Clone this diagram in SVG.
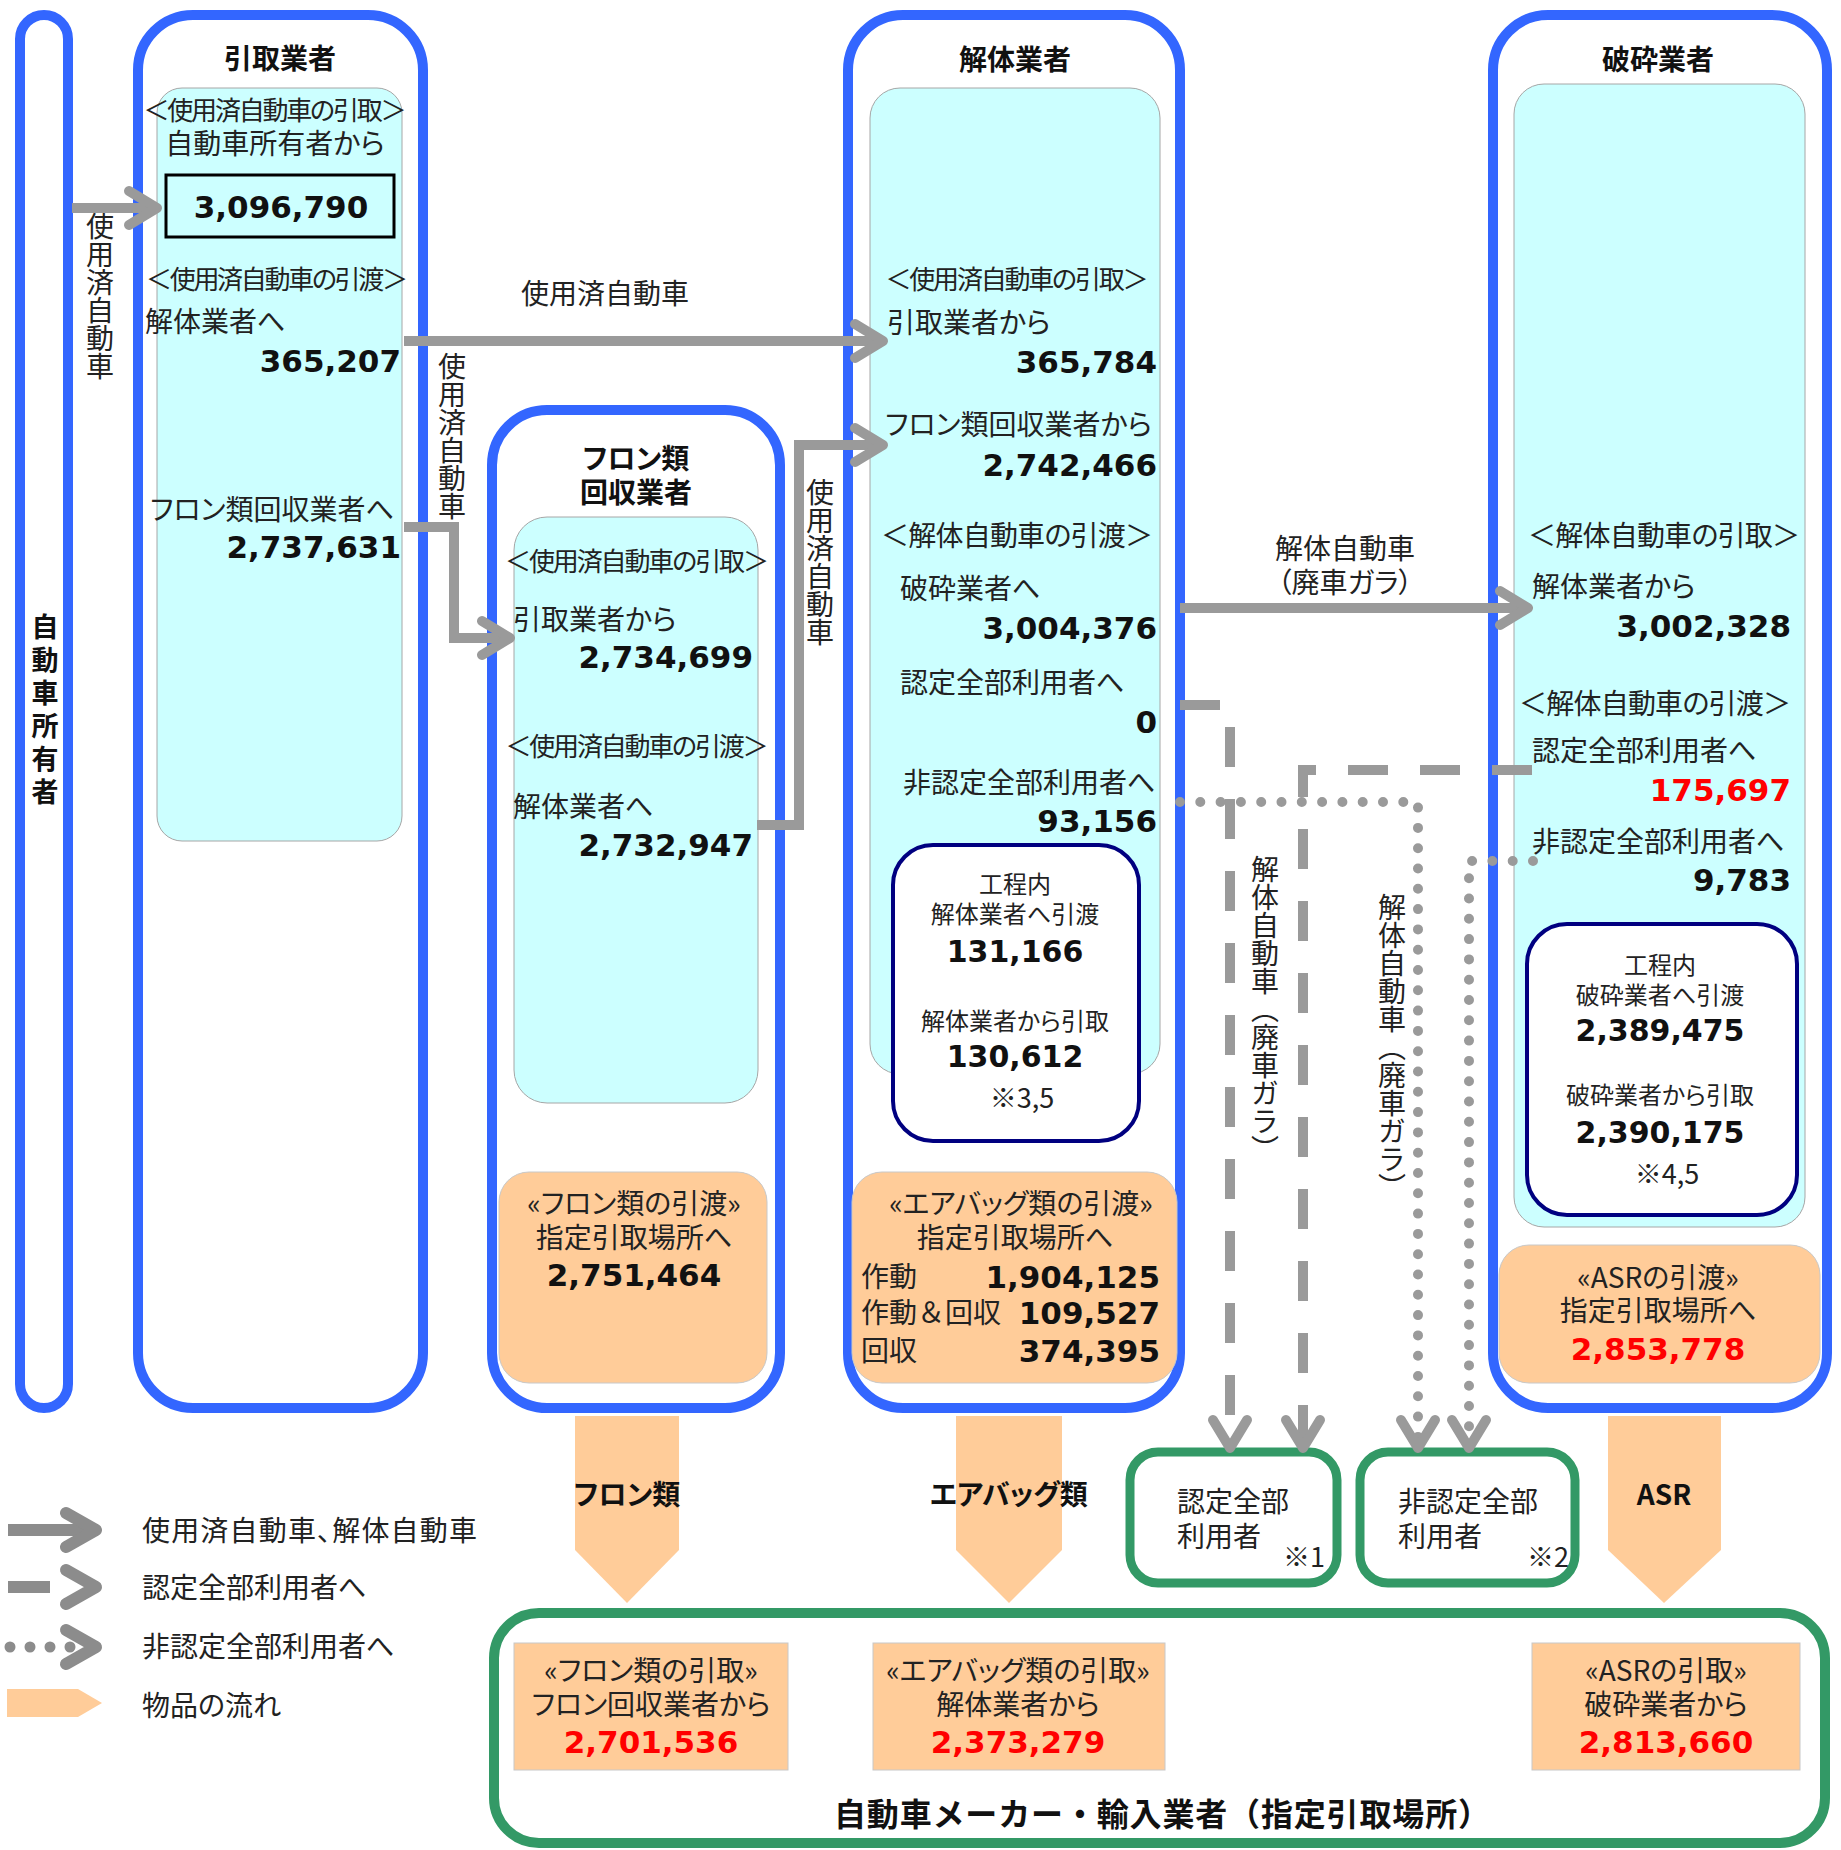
<svg xmlns="http://www.w3.org/2000/svg" width="1841" height="1850" viewBox="0 0 1841 1850">
<defs>
<style>
text{font-family:"Noto Sans CJK JP","Noto Sans CJK SC",sans-serif;fill:#222;font-size:28px;font-feature-settings:"palt";}
.c{text-anchor:middle}
.e{text-anchor:end}
.hd{font-size:26px}
.tt{font-weight:bold;fill:#111}
.sm{font-size:24px}
.np{font-feature-settings:normal}
.n{font-family:"DejaVu Sans",Verdana,sans-serif;font-weight:bold;font-size:31px;fill:#111;font-feature-settings:normal}
.nsm{font-size:30px}
.red{fill:#FF0000}
.v{writing-mode:vertical-rl;font-feature-settings:normal}
.blue{fill:#fff;stroke:#3366FF;stroke-width:10}
.cyan{fill:#CCFFFF;stroke:#A6A6A6;stroke-width:1}
.org{fill:#FFCC99;stroke:#C8C8C8;stroke-width:1}
.navy{fill:#fff;stroke:#000080;stroke-width:4}
.green{fill:#fff;stroke:#339966;stroke-width:9}
.ln{fill:none;stroke:#9A9A9A;stroke-width:10}
.dash{stroke-dasharray:40 32}
.dot{stroke-width:10;stroke-dasharray:0 20.3;stroke-linecap:round}
</style>
<marker id="ah" viewBox="-40 -25 50 50" refX="0" refY="0" markerWidth="50" markerHeight="50" markerUnits="userSpaceOnUse" orient="auto" overflow="visible">
<path d="M-28,-17 L0,0 L-28,17" fill="none" stroke="#9A9A9A" stroke-width="10" stroke-linecap="round" stroke-linejoin="round"/>
</marker>
<path id="chev" d="M-30,-17 L0,0 L-30,17" fill="none" stroke="#8C8C8C" stroke-width="12" stroke-linecap="round" stroke-linejoin="round"/>
</defs>
<rect width="1841" height="1850" fill="#fff"/>

<!-- 自動車所有者 -->
<g id="owner">
<rect class="blue" x="20" y="15" width="48" height="1393" rx="24"/>
<text class="v tt" x="45" y="613" style="font-size:27px;letter-spacing:6px">自動車所有者</text>
</g>

<!-- 引取業者 -->
<g id="hikitori">
<rect class="blue" x="138" y="15" width="285" height="1393" rx="55"/>
<rect class="cyan" x="157" y="88" width="245" height="753" rx="25"/>
<text class="c tt" x="280" y="69">引取業者</text>
<text class="c hd" x="275" y="120" textLength="263">＜使用済自動車の引取＞</text>
<text class="c" x="275" y="154">自動車所有者から</text>
<rect x="166" y="175" width="228" height="62" fill="none" stroke="#000" stroke-width="3"/>
<text class="c n" x="281" y="218">3,096,790</text>
<text class="c hd" x="277" y="289" textLength="262">＜使用済自動車の引渡＞</text>
<text x="145" y="332">解体業者へ</text>
<text class="e n" x="401" y="372">365,207</text>
<text x="150" y="520">フロン類回収業者へ</text>
<text class="e n" x="401" y="558">2,737,631</text>
</g>

<!-- フロン類回収業者 -->
<g id="freon">
<rect class="blue" x="492" y="410" width="288" height="998" rx="55"/>
<rect class="cyan" x="514" y="517" width="244" height="586" rx="33"/>
<text class="c tt" x="636" y="469">フロン類</text>
<text class="c tt" x="636" y="503">回収業者</text>
<text class="c hd" x="637" y="571" textLength="264">＜使用済自動車の引取＞</text>
<text x="513" y="630">引取業者から</text>
<text class="e n" x="753" y="668">2,734,699</text>
<text class="c hd" x="637" y="756" textLength="263">＜使用済自動車の引渡＞</text>
<text x="513" y="817">解体業者へ</text>
<text class="e n" x="753" y="856">2,732,947</text>
<rect class="org" x="499" y="1172" width="268" height="211" rx="30"/>
<text class="c" x="634" y="1214">«フロン類の引渡»</text>
<text class="c" x="634" y="1248">指定引取場所へ</text>
<text class="c n" x="634" y="1286">2,751,464</text>
</g>

<!-- 解体業者 -->
<g id="kaitai">
<rect class="blue" x="848" y="15" width="332" height="1393" rx="55"/>
<rect class="cyan" x="870" y="88" width="290" height="986" rx="30"/>
<text class="c tt" x="1015" y="70">解体業者</text>
<text class="c hd" x="1017" y="289" textLength="263">＜使用済自動車の引取＞</text>
<text x="887" y="333">引取業者から</text>
<text class="e n" x="1157" y="373">365,784</text>
<text x="885" y="435">フロン類回収業者から</text>
<text class="e n" x="1157" y="476">2,742,466</text>
<text class="c" x="1017" y="546" textLength="272">＜解体自動車の引渡＞</text>
<text x="900" y="599">破砕業者へ</text>
<text class="e n" x="1157" y="639">3,004,376</text>
<text x="900" y="693">認定全部利用者へ</text>
<text class="e n" x="1157" y="733">0</text>
<text x="903" y="793">非認定全部利用者へ</text>
<text class="e n" x="1157" y="832">93,156</text>
<rect class="navy" x="893" y="845" width="246" height="296" rx="40"/>
<text class="c sm" x="1015" y="893">工程内</text>
<text class="c sm" x="1015" y="923">解体業者へ引渡</text>
<text class="c n nsm" x="1015" y="962">131,166</text>
<text class="c sm" x="1015" y="1030">解体業者から引取</text>
<text class="c n nsm" x="1015" y="1067">130,612</text>
<text class="c np" x="1022" y="1108" style="font-size:27px">※3,5</text>
<rect class="org" x="852" y="1172" width="325" height="211" rx="30"/>
<text class="c" x="1021" y="1214">«エアバッグ類の引渡»</text>
<text class="c" x="1015" y="1248">指定引取場所へ</text>
<text x="861" y="1287">作動</text>
<text class="e n" x="1160" y="1288">1,904,125</text>
<text class="np" x="861" y="1323">作動＆回収</text>
<text class="e n" x="1160" y="1324">109,527</text>
<text x="861" y="1361">回収</text>
<text class="e n" x="1160" y="1362">374,395</text>
</g>

<!-- 破砕業者 -->
<g id="hasai">
<rect class="blue" x="1493" y="15" width="334" height="1393" rx="55"/>
<rect class="cyan" x="1514" y="84" width="291" height="1143" rx="30"/>
<text class="c tt" x="1658" y="70">破砕業者</text>
<text class="c" x="1664" y="546" textLength="272">＜解体自動車の引取＞</text>
<text x="1532" y="597">解体業者から</text>
<text class="e n" x="1791" y="637">3,002,328</text>
<text class="c" x="1655" y="714" textLength="272">＜解体自動車の引渡＞</text>
<text x="1532" y="761">認定全部利用者へ</text>
<text class="e n red" x="1791" y="801">175,697</text>
<text x="1532" y="852">非認定全部利用者へ</text>
<text class="e n" x="1791" y="891">9,783</text>
<rect class="navy" x="1527" y="924" width="270" height="291" rx="40"/>
<text class="c sm" x="1660" y="974">工程内</text>
<text class="c sm" x="1660" y="1004">破砕業者へ引渡</text>
<text class="c n nsm" x="1660" y="1041">2,389,475</text>
<text class="c sm" x="1660" y="1104">破砕業者から引取</text>
<text class="c n nsm" x="1660" y="1143">2,390,175</text>
<text class="c np" x="1667" y="1184" style="font-size:27px">※4,5</text>
<rect class="org" x="1499" y="1245" width="321" height="138" rx="30"/>
<text class="c" x="1658" y="1288">«ASRの引渡»</text>
<text class="c" x="1658" y="1321">指定引取場所へ</text>
<text class="c n red" x="1658" y="1360">2,853,778</text>
</g>

<!-- 認定全部利用者 -->
<g id="nintei">
<rect class="green" x="1130" y="1452" width="207" height="131" rx="28"/>
<text x="1177" y="1512">認定全部</text>
<text x="1177" y="1547">利用者</text>
<text class="e np" x="1325" y="1567" style="font-size:27px">※1</text>
</g>

<!-- 非認定全部利用者 -->
<g id="hinintei">
<rect class="green" x="1360" y="1452" width="215" height="131" rx="28"/>
<text x="1398" y="1512">非認定全部</text>
<text x="1398" y="1547">利用者</text>
<text class="e np" x="1569" y="1567" style="font-size:27px">※2</text>
</g>

<!-- 自動車メーカー・輸入業者 -->
<g id="maker">
<rect class="green" x="494" y="1613" width="1331" height="230" rx="45" style="stroke-width:10"/>
<rect class="org" x="514" y="1643" width="274" height="127"/>
<text class="c" x="651" y="1681">«フロン類の引取»</text>
<text class="c" x="651" y="1715">フロン回収業者から</text>
<text class="c n red" x="651" y="1753">2,701,536</text>
<rect class="org" x="873" y="1643" width="292" height="127"/>
<text class="c" x="1018" y="1681">«エアバッグ類の引取»</text>
<text class="c" x="1018" y="1715">解体業者から</text>
<text class="c n red" x="1018" y="1753">2,373,279</text>
<rect class="org" x="1532" y="1643" width="268" height="127"/>
<text class="c" x="1666" y="1681">«ASRの引取»</text>
<text class="c" x="1666" y="1715">破砕業者から</text>
<text class="c n red" x="1666" y="1753">2,813,660</text>
<text class="c tt np" x="1162" y="1826" style="font-size:32px" textLength="656">自動車メーカー・輸入業者（指定引取場所）</text>
</g>

<!-- connectors -->
<g id="connectors">
<path class="ln" d="M72,208 H157" marker-end="url(#ah)"/>
<path class="ln" d="M404,341 H883" marker-end="url(#ah)"/>
<path class="ln" d="M404,527 H454 V638 H510" marker-end="url(#ah)"/>
<path class="ln" d="M757,825 H799 V445 H883" marker-end="url(#ah)"/>
<path class="ln" d="M1180,608 H1528" marker-end="url(#ah)"/>
<path class="ln dash" d="M1180,705 H1230 V1448" marker-end="url(#ah)"/>
<path class="ln dash" d="M1532,770 H1303 V1448" marker-end="url(#ah)"/>
<path class="ln dot" d="M1180,802 H1418 V1448" marker-end="url(#ah)"/>
<path class="ln dot" d="M1533,861 H1469 V1448" marker-end="url(#ah)"/>
<polygon points="575,1416 679,1416 679,1550 627,1603 575,1550" fill="#FFCC99"/>
<polygon points="956,1416 1062,1416 1062,1550 1009,1603 956,1550" fill="#FFCC99"/>
<polygon points="1608,1416 1721,1416 1721,1550 1664,1603 1608,1550" fill="#FFCC99"/>
<text class="v" x="100" y="212">使用済自動車</text>
<text class="v" x="452" y="352">使用済自動車</text>
<text class="v" x="820" y="478">使用済自動車</text>
<text class="c" x="605" y="304">使用済自動車</text>
<text class="c" x="1345" y="559">解体自動車</text>
<text class="c" x="1345" y="593">（廃車ガラ）</text>
<text class="v" x="1265" y="855">解体自動車（廃車ガラ）</text>
<text class="v" x="1392" y="893">解体自動車（廃車ガラ）</text>
<text class="c tt" x="627" y="1505">フロン類</text>
<text class="c tt" x="1009" y="1505">エアバッグ類</text>
<text class="c tt" x="1664" y="1505">ASR</text>
</g>

<!-- legend -->
<g id="legend">
<path d="M8,1530 H88" stroke="#8C8C8C" stroke-width="12" fill="none"/>
<use href="#chev" x="96" y="1530"/>
<path d="M8,1587 H50" stroke="#8C8C8C" stroke-width="12" fill="none"/>
<use href="#chev" x="96" y="1587"/>
<path d="M10,1647 H72" stroke="#8C8C8C" stroke-width="11" fill="none" stroke-dasharray="0 20" stroke-linecap="round"/>
<use href="#chev" x="96" y="1647"/>
<polygon points="7,1689 78,1689 102,1703 78,1717 7,1717" fill="#FFCC99"/>
<text x="142" y="1541" textLength="335">使用済自動車、解体自動車</text>
<text x="142" y="1598">認定全部利用者へ</text>
<text x="142" y="1657">非認定全部利用者へ</text>
<text x="142" y="1716">物品の流れ</text>
</g>
</svg>
